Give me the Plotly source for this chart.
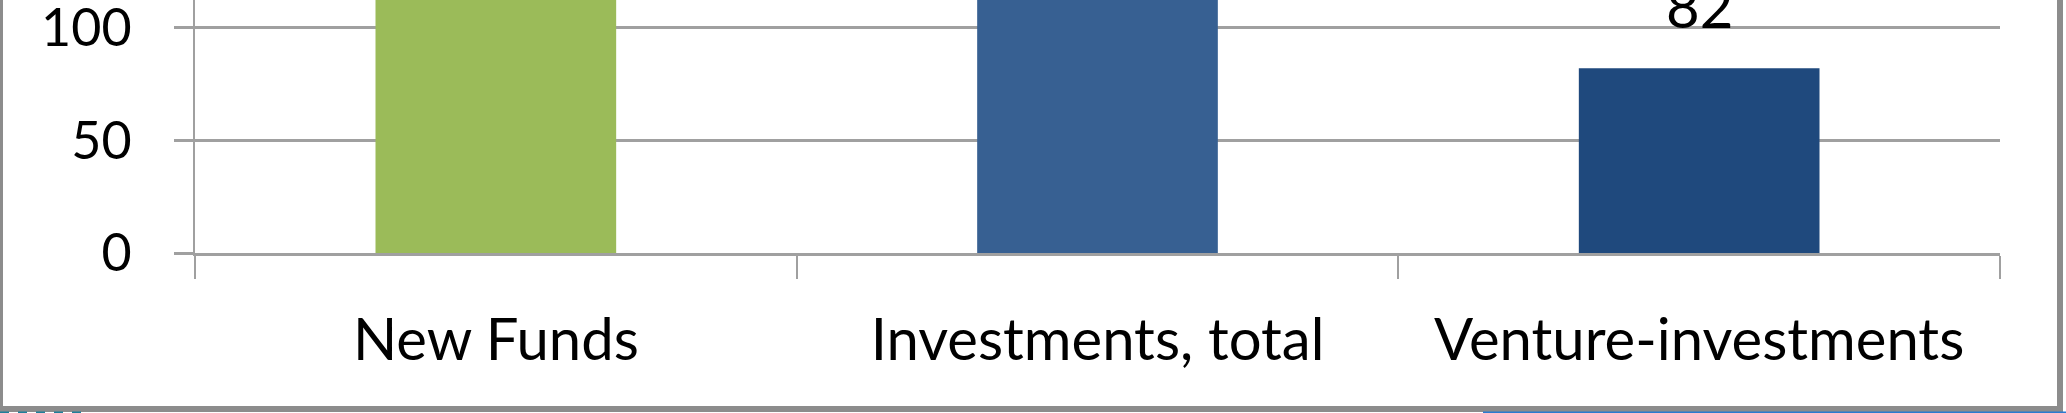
import plotly.graph_objects as go

# bar chart data (the first two bars run past the top of the crop)
categories = ["New Funds", "Investments, total", "Venture-investments"]
values = [170, 160, 82]
bar_colors = ["#9bbb59", "#376092", "#1f497d"]
y_ticks = [0, 50, 100]

W, H = 2066, 413
L, R, T, B = 195, 66, 0, 160
GRID = "#a0a0a0"
FONT = "Lato"


def px_x(v):
    return (v - L) / (W - L - R)


def px_y(v):
    return 1 - (v - T) / (H - T - B)


fig = go.Figure(
    go.Bar(
        x=categories,
        y=values,
        marker_color=bar_colors,
        marker_line_width=0,
        hoverinfo="x+y",
    )
)

# value labels sit well above each bar
for c, v in zip(categories, values):
    fig.add_annotation(
        x=c,
        y=v,
        text=str(v),
        showarrow=False,
        yanchor="bottom",
        yshift=26,
        font=dict(family=FONT, size=58, color="black"),
    )

# outer frame of the chart
frame = dict(type="line", xref="paper", yref="paper", line_color="#8c8c8c")
fig.add_shape(frame, x0=px_x(1.5), x1=px_x(1.5), y0=px_y(409), y1=px_y(-5), line_width=3)
fig.add_shape(frame, x0=px_x(0), x1=px_x(2063), y0=px_y(409), y1=px_y(409), line_width=6)
fig.add_shape(frame, x0=px_x(2060), x1=px_x(2060), y0=px_y(409), y1=px_y(-5), line_width=6)
# bits of the surrounding page peeking out under the frame
fig.add_shape(type="line", xref="paper", yref="paper", x0=px_x(0), x1=px_x(84),
              y0=px_y(412.5), y1=px_y(412.5), line=dict(color="#1f7f9a", width=2, dash="dash"))
fig.add_shape(type="line", xref="paper", yref="paper", x0=px_x(1483), x1=px_x(2066),
              y0=px_y(412.5), y1=px_y(412.5), line=dict(color="#2a7bd0", width=2))

fig.update_layout(
    width=W,
    height=H,
    margin=dict(l=L, r=R, t=T, b=B, autoexpand=False),
    plot_bgcolor="white",
    paper_bgcolor="white",
    bargap=0.6,
    showlegend=False,
    font=dict(family=FONT, size=56, color="black"),
)
fig.update_xaxes(
    automargin=False,
    showline=True,
    linecolor=GRID,
    linewidth=3,
    ticks="outside",
    tickson="boundaries",
    ticklen=23,
    tickwidth=2,
    tickcolor=GRID,
    tickfont=dict(family=FONT, size=58, color="black"),
    ticklabelstandoff=34,
    showgrid=False,
)
fig.update_yaxes(
    automargin=False,
    range=[0, 112.3],
    tickvals=y_ticks,
    showgrid=True,
    gridcolor=GRID,
    gridwidth=3,
    zeroline=False,
    showline=True,
    linecolor=GRID,
    linewidth=2,
    ticks="outside",
    ticklen=19,
    tickwidth=3,
    tickcolor=GRID,
    tickfont=dict(family=FONT, size=52, color="black"),
    ticklabelstandoff=32,
    ticklabeloverflow="allow",
)

# the page's default body margin would push the figure 8px off the window
fig.write_html(
    "out.html",
    config={"displayModeBar": False},
    post_script="document.body.style.margin='0';document.body.style.overflow='hidden';",
)
